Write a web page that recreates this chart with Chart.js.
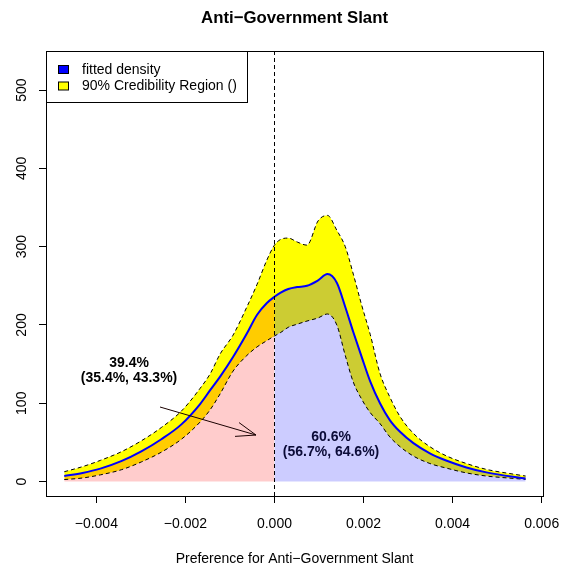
<!DOCTYPE html>
<html><head><meta charset="utf-8">
<script src="https://cdn.jsdelivr.net/npm/chart.js@4.4.0/dist/chart.umd.min.js"></script>
<style>html,body{margin:0;padding:0;background:#fff;}canvas{display:block;}</style>
</head><body>
<canvas id="c" width="567" height="568"></canvas>
<script>
// ---- data ----
const xValues = [-0.00472,-0.00431,-0.00391,-0.00344,-0.00299,-0.00254,-0.00209,-0.00167,-0.00144,-0.00122,-0.00093,-0.00062,-0.00039,-0.00017,0,0.00013,0.00031,0.00051,0.00073,0.00098,0.00119,0.0014,0.00159,0.00177,0.00196,0.00215,0.00237,0.00259,0.00282,0.00312,0.00349,0.00387,0.00431,0.00476,0.00536,0.00564];
const upperBound = [12.5,19,27,38,52,69,90,119,138,163,187,223,252,283,302,309,311,306,302,333,340,321,300,265,225,188,138,108,83,61.5,44.5,32.5,23,15.5,9.5,7];
const fittedDensity = [7,11,16.5,26,38.5,54,73,99,117,134,159,189,213,228,236,241,246,248.5,250,257,265,254,223,191,159,128,100,78.5,63.5,49,36,26.5,18,11.7,6,4];
const lowerBound = [2.5,4.5,8.5,15,25,37.5,54,76,92,112,141,161,172,180,186,190,197,201,205,209,214,200,161,127,105,88,74,57,44.5,32.5,23,17,11,7,4,2.8];
const splitX = 0;
const xTickValues = [-0.004,-0.002,0,0.002,0.004,0.006];
const xTickLabels = ['\u22120.004','\u22120.002','0.000','0.002','0.004','0.006'];
const yTickValues = [0,100,200,300,400,500];
const yTickLabels = ['0','100','200','300','400','500'];
const legendLabels = ['fitted density','90% Credibility Region ()'];
const leftShareText = ['39.4%','(35.4%, 43.3%)'];
const rightShareText = ['60.6%','(56.7%, 64.6%)'];

const FONT = "'Liberation Sans', Arial, Helvetica, sans-serif";
const pts = arr => xValues.map((x,i)=>({x:x,y:arr[i]}));
const leftPts = pts(fittedDensity).filter(p=>p.x<=splitX);
const rightPts = pts(fittedDensity).filter(p=>p.x>=splitX);

const overlay = {
  id:'overlay',
  afterDatasetsDraw(chart){
    const ctx = chart.ctx, xs = chart.scales.x, ys = chart.scales.y, a = chart.chartArea;
    ctx.save();
    // vertical reference line at splitX
    const zx = Math.round(xs.getPixelForValue(splitX)) + 0.5;
    ctx.strokeStyle = '#000'; ctx.lineWidth = 1; ctx.setLineDash([4,3]);
    ctx.beginPath(); ctx.moveTo(zx, a.top); ctx.lineTo(zx, a.bottom); ctx.stroke();
    ctx.setLineDash([]);
    // annotations
    ctx.font = 'bold 14px ' + FONT; ctx.textAlign = 'center'; ctx.textBaseline = 'alphabetic';
    ctx.fillStyle = '#000';
    ctx.fillText(leftShareText[0], xs.getPixelForValue(-0.003266), ys.getPixelForValue(145.9));
    ctx.fillText(leftShareText[1], xs.getPixelForValue(-0.003266), ys.getPixelForValue(127.1));
    ctx.fillStyle = 'rgb(10,10,55)';
    ctx.fillText(rightShareText[0], xs.getPixelForValue(0.00127), ys.getPixelForValue(51.8));
    ctx.fillText(rightShareText[1], xs.getPixelForValue(0.00127), ys.getPixelForValue(32));
    // arrow
    const x1 = xs.getPixelForValue(-0.00257), y1 = ys.getPixelForValue(95.2);
    const x2 = xs.getPixelForValue(-0.000415), y2 = ys.getPixelForValue(59.4);
    const ang = Math.atan2(y2-y1, x2-x1), hl = 21, ha = 20*Math.PI/180;
    ctx.strokeStyle = '#1a0000'; ctx.lineWidth = 1;
    ctx.beginPath(); ctx.moveTo(x1,y1); ctx.lineTo(x2,y2);
    ctx.moveTo(x2 - hl*Math.cos(ang-ha), y2 - hl*Math.sin(ang-ha)); ctx.lineTo(x2,y2);
    ctx.lineTo(x2 - hl*Math.cos(ang+ha), y2 - hl*Math.sin(ang+ha));
    ctx.stroke();
    ctx.restore();
  },
  afterDraw(chart){
    const ctx = chart.ctx, a = chart.chartArea, ys = chart.scales.y;
    ctx.save();
    ctx.strokeStyle = '#000'; ctx.lineWidth = 1;
    ctx.strokeRect(Math.round(a.left)+0.5, Math.round(a.top)+0.5, Math.round(a.right)-Math.round(a.left), Math.round(a.bottom)-Math.round(a.top));
    // y tick labels, rotated like the reference (read bottom-to-top)
    ctx.font = '14px ' + FONT; ctx.fillStyle = '#000'; ctx.textAlign = 'center'; ctx.textBaseline = 'middle';
    ys.ticks.forEach((t,i)=>{
      const py = ys.getPixelForValue(t.value);
      ctx.save(); ctx.translate(ys.right - 7 - 16.5, py); ctx.rotate(-Math.PI/2);
      ctx.fillText(yTickLabels[i], 0, 0); ctx.restore();
    });
    // legend
    const lx = Math.round(a.left)+0.5, ly = Math.round(a.top)+0.5;
    ctx.fillStyle = '#fff'; ctx.fillRect(lx, ly, 201, 51);
    ctx.strokeRect(lx, ly, 201, 51);
    const cols = ['#0000ff','#ffff00'];
    ctx.textAlign = 'left'; ctx.textBaseline = 'alphabetic';
    for (let i=0;i<legendLabels.length;i++){
      const by = ly + 14 + i*16.5;
      ctx.fillStyle = cols[i]; ctx.fillRect(lx+12, by, 10, 8);
      ctx.strokeStyle = '#000'; ctx.strokeRect(lx+12, by, 10, 8);
      ctx.fillStyle = '#000'; ctx.fillText(legendLabels[i], lx+35.5, ly + 22 + i*16.5);
    }
    ctx.restore();
  }
};

new Chart(document.getElementById('c'), {
  type:'line',
  data:{datasets:[
    {label:'band', data:pts(upperBound), fill:4, backgroundColor:'#ffff00', borderWidth:0, borderColor:'rgba(0,0,0,0)', pointRadius:0, cubicInterpolationMode:'monotone', order:6},
    {label:'left', data:leftPts, fill:{value:0}, backgroundColor:'rgba(255,0,0,0.2)', borderWidth:0, borderColor:'rgba(0,0,0,0)', pointRadius:0, cubicInterpolationMode:'monotone', order:5},
    {label:'right', data:rightPts, fill:{value:0}, backgroundColor:'rgba(0,0,255,0.2)', borderWidth:0, borderColor:'rgba(0,0,0,0)', pointRadius:0, cubicInterpolationMode:'monotone', order:4},
    {label:'upper', data:pts(upperBound), fill:false, borderColor:'#000', borderWidth:1, borderDash:[4,3], pointRadius:0, cubicInterpolationMode:'monotone', order:3},
    {label:'lower', data:pts(lowerBound), fill:false, borderColor:'#000', borderWidth:1, borderDash:[4,3], pointRadius:0, cubicInterpolationMode:'monotone', order:2},
    {label:'fitted density', data:pts(fittedDensity), fill:false, borderColor:'#0000ff', borderWidth:2, pointRadius:0, cubicInterpolationMode:'monotone', order:1}
  ]},
  options:{
    responsive:false, animation:false, devicePixelRatio:1,
    layout:{padding:{left:22,right:0,top:0,bottom:0}},
    plugins:{
      legend:{display:false}, tooltip:{enabled:false},
      title:{display:true, text:'Anti\u2212Government Slant', color:'#000', font:{family:FONT, size:16.8, weight:'bold'}, padding:{top:8.4, bottom:22.44}}
    },
    scales:{
      x:{type:'linear', position:'bottom', min:-0.00513, max:0.00603,
        afterBuildTicks:s=>{ s.ticks = xTickValues.map(v=>({value:v})); },
        afterFit:s=>{ s.height = 72; s.paddingLeft = 0; s.paddingRight = 0; },
        ticks:{callback:(v,i)=>xTickLabels[i], color:'#000', font:{family:FONT, size:14}, padding:13, minRotation:0, maxRotation:0, autoSkip:false},
        grid:{drawOnChartArea:false, drawTicks:true, tickLength:7, color:'#000', lineWidth:1},
        border:{display:true, color:'#000', width:1},
        title:{display:true, text:'Preference for Anti\u2212Government Slant', color:'#000', font:{family:FONT, size:14}, padding:{top:0,bottom:0}}
      },
      y:{type:'linear', position:'left', min:-18.5, max:550,
        afterBuildTicks:s=>{ s.ticks = yTickValues.map(v=>({value:v})); },
        afterFit:s=>{ s.width = 24; s.paddingTop = 0; s.paddingBottom = 0; },
        ticks:{display:false},
        grid:{drawOnChartArea:false, drawTicks:true, tickLength:7, color:'#000', lineWidth:1},
        border:{display:true, color:'#000', width:1}
      },
      y2:{type:'linear', position:'right', display:true,
        afterFit:s=>{ s.width = 24; s.paddingTop = 0; s.paddingBottom = 0; },
        ticks:{display:false}, grid:{display:false}, border:{display:false}
      }
    }
  },
  plugins:[overlay]
});
</script>
</body></html>
